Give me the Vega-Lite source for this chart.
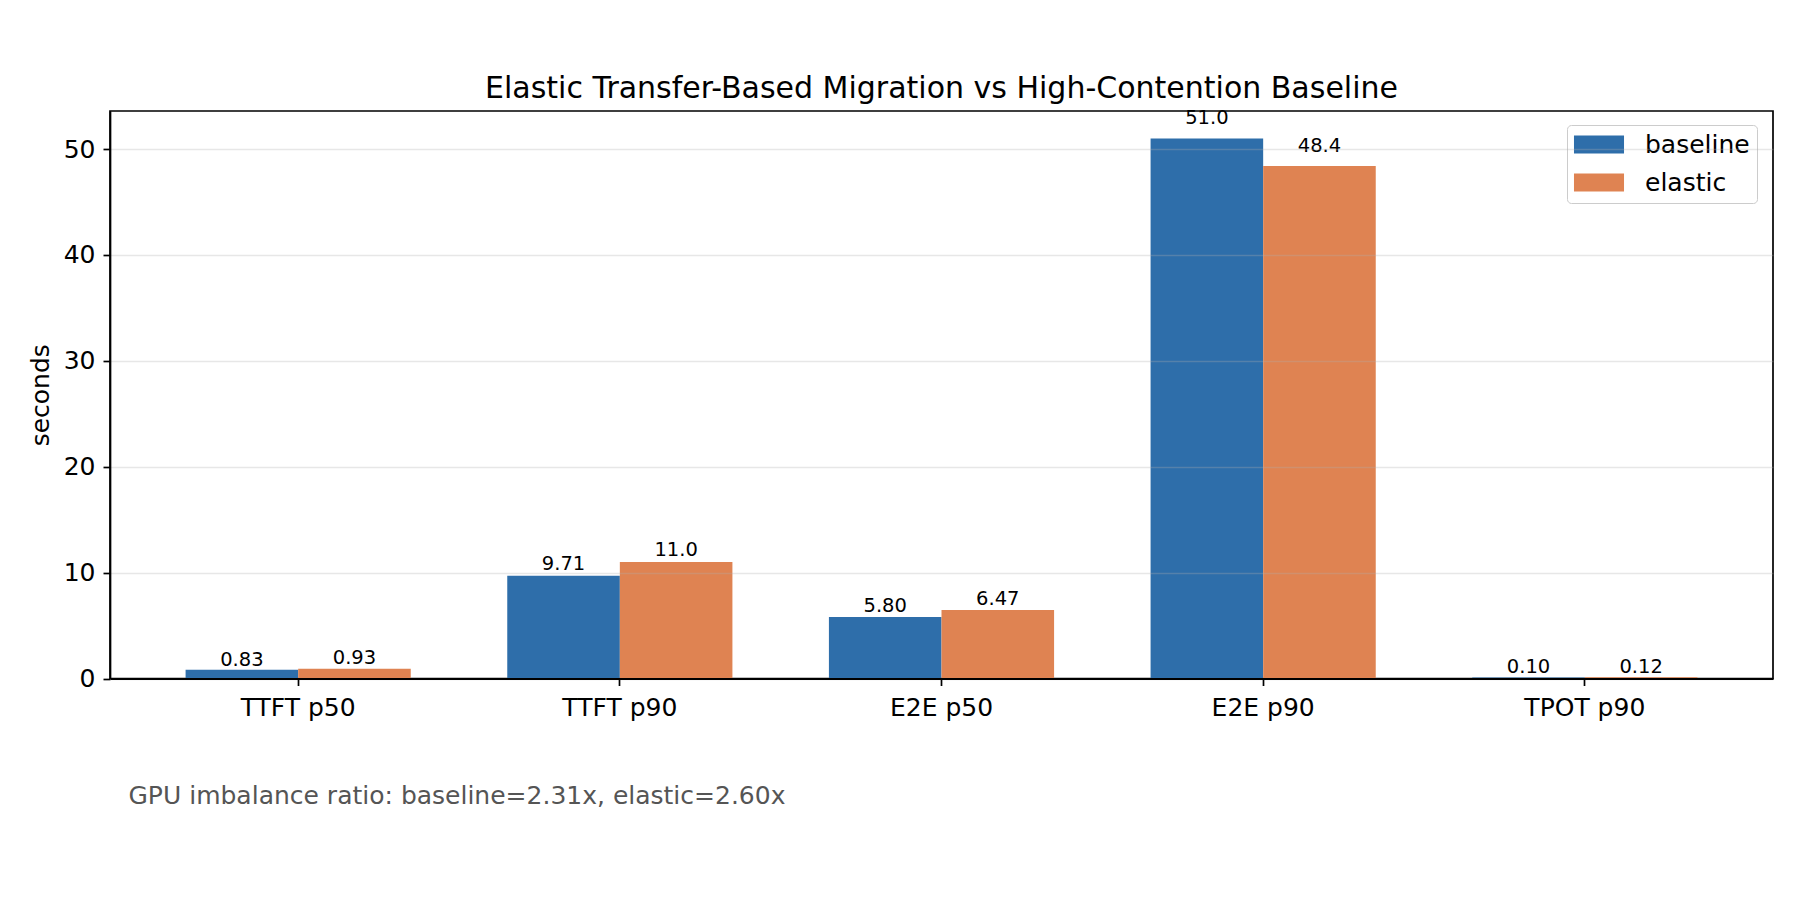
{
  "$schema": "https://vega.github.io/schema/vega-lite/v6.json",
  "width": 1663,
  "height": 567.5,
  "autosize": {"type": "none"},
  "padding": {"left": 110, "top": 111, "right": 27, "bottom": 221.5},
  "background": "white",
  "title": {
    "text": "Elastic Transfer-Based Migration vs High-Contention Baseline",
    "font": "DejaVu Sans",
    "fontSize": 30,
    "fontWeight": "normal",
    "color": "#000000",
    "anchor": "middle",
    "frame": "group",
    "baseline": "alphabetic",
    "offset": -20
  },
  "data": {
    "values": [
      {"metric": "TTFT p50", "config": "baseline", "seconds": 0.83, "label": "0.83"},
      {"metric": "TTFT p50", "config": "elastic", "seconds": 0.93, "label": "0.93"},
      {"metric": "TTFT p90", "config": "baseline", "seconds": 9.71, "label": "9.71"},
      {"metric": "TTFT p90", "config": "elastic", "seconds": 11.0, "label": "11.0"},
      {"metric": "E2E p50", "config": "baseline", "seconds": 5.80, "label": "5.80"},
      {"metric": "E2E p50", "config": "elastic", "seconds": 6.47, "label": "6.47"},
      {"metric": "E2E p90", "config": "baseline", "seconds": 51.0, "label": "51.0"},
      {"metric": "E2E p90", "config": "elastic", "seconds": 48.4, "label": "48.4"},
      {"metric": "TPOT p90", "config": "baseline", "seconds": 0.10, "label": "0.10"},
      {"metric": "TPOT p90", "config": "elastic", "seconds": 0.12, "label": "0.12"}
    ]
  },
  "encoding": {
    "x": {
      "field": "metric",
      "type": "nominal",
      "sort": ["TTFT p50", "TTFT p90", "E2E p50", "E2E p90", "TPOT p90"],
      "scale": {"paddingInner": 0.3, "paddingOuter": 0.235},
      "axis": {
        "title": "GPU imbalance ratio: baseline=2.31x, elastic=2.60x",
        "labelAngle": 0,
        "labelFont": "DejaVu Sans",
        "labelFontSize": 25,
        "labelColor": "#000000",
        "labelPadding": 10,
        "tickSize": 7,
        "tickColor": "#000000",
        "tickWidth": 1.7,
        "domain": true,
        "domainColor": "#000000",
        "domainWidth": 1.9,
        "grid": false,
        "titleAnchor": "start",
        "titleAlign": "left",
        "titleX": 18,
        "titleY": 124.5,
        "titleBaseline": "alphabetic",
        "titleColor": "#555555",
        "titleFont": "DejaVu Sans",
        "titleFontSize": 25,
        "titleFontWeight": "normal",
        "zindex": 1
      }
    },
    "xOffset": {
      "field": "config",
      "type": "nominal",
      "sort": ["baseline", "elastic"],
      "scale": {"paddingInner": 0, "paddingOuter": 0}
    }
  },
  "layer": [
    {
      "mark": {"type": "bar"},
      "encoding": {
        "y": {
          "field": "seconds",
          "type": "quantitative",
          "scale": {"domain": [0, 53.6], "nice": false, "zero": true},
          "axis": {
            "title": "seconds",
            "values": [0, 10, 20, 30, 40, 50],
            "grid": true,
            "gridColor": "#b0b0b0",
            "gridOpacity": 0.3,
            "gridWidth": 1.3,
            "domain": true,
            "domainColor": "#000000",
            "domainWidth": 1.7,
            "tickColor": "#000000",
            "tickSize": 7,
            "tickWidth": 1.7,
            "labelFont": "DejaVu Sans",
            "labelFontSize": 25,
            "labelColor": "#000000",
            "labelPadding": 8,
            "titleFont": "DejaVu Sans",
            "titleFontSize": 25,
            "titleFontWeight": "normal",
            "titleColor": "#000000",
            "titlePadding": 10,
            "zindex": 1
          }
        },
        "color": {
          "field": "config",
          "type": "nominal",
          "sort": ["baseline", "elastic"],
          "scale": {"range": ["#2e6eaa", "#df8352"]},
          "legend": {
            "title": null,
            "orient": "none",
            "legendX": 1457,
            "legendY": 14,
            "symbolType": "M-2.78,-1H2.78V1H-2.78Z",
            "symbolSize": 324,
            "symbolOffset": 12.5,
            "symbolStrokeWidth": 0,
            "symbolOpacity": 1,
            "labelFont": "DejaVu Sans",
            "labelFontSize": 25,
            "labelColor": "#000000",
            "labelOffset": 33.5,
            "rowPadding": 12,
            "padding": 7,
            "strokeColor": "#cccccc",
            "cornerRadius": 4,
            "fillColor": "rgba(255,255,255,0.8)"
          }
        }
      }
    },
    {
      "transform": [{"calculate": "datum.seconds * 1.02", "as": "label_y"}],
      "mark": {
        "type": "text",
        "baseline": "alphabetic",
        "align": "center",
        "dy": -4,
        "font": "DejaVu Sans",
        "fontSize": 19.5,
        "color": "#000000"
      },
      "encoding": {
        "y": {"field": "label_y", "type": "quantitative"},
        "text": {"field": "label"}
      }
    }
  ],
  "config": {
    "font": "DejaVu Sans",
    "view": {"stroke": "#000000", "strokeWidth": 1.7}
  }
}
